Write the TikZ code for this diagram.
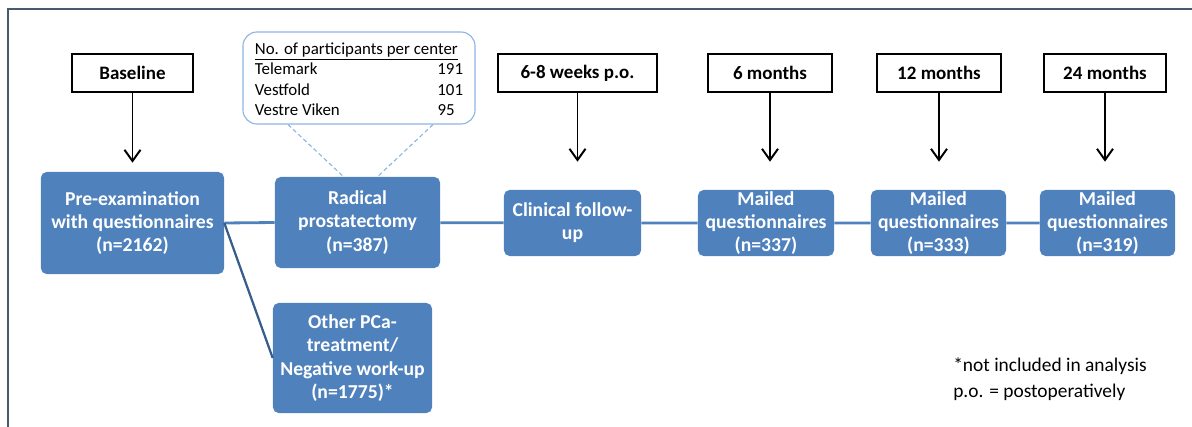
\documentclass[tikz,border=0pt]{standalone}
\usepackage{fontspec}
\setmainfont{Carlito}
\usepackage{tikz}
\usetikzlibrary{positioning, calc, arrows.meta}
\definecolor{boxblue}{HTML}{4F81BD}
\definecolor{darkline}{HTML}{385D8A}
\definecolor{calloutline}{HTML}{8EB4E3}
\definecolor{framegray}{HTML}{4A5A6E}
\tikzset{box/.style = {rectangle,rounded corners=4pt,fill=boxblue,text=white,align=center,inner sep=0pt,
                       font=\bfseries\fontsize{14}{16.5}\selectfont},
         lbl/.style = {rectangle,draw=black,line width=1.3pt,fill=white,inner sep=0pt,
                       minimum height=0.95cm,font=\bfseries\fontsize{13.5}{16}\selectfont},
         arr/.style = {-{Straight Barb[length=2.8mm,width=4mm,line width=1.4pt]},line width=1.4pt},
         link/.style = {boxblue,line width=2pt}}

\begin{document}
\begin{tikzpicture}[x=0.025cm,y=-0.025cm]
        \useasboundingbox (0,0) rectangle (1192,427);
        \draw [framegray,line width=1.2pt] (8,427) -- (8,9) -- (1192,9);

        \node [lbl,minimum width=3.03cm] (Base) at (132.5,73)  {Baseline};
        \node [lbl,minimum width=3.98cm] (W68)  at (577.5,73)  {6-8 weeks p.o.};
        \node [lbl,minimum width=3.10cm] (M6l)  at (770,73)    {6 months};
        \node [lbl,minimum width=3.10cm] (M12l) at (939,73)    {12 months};
        \node [lbl,minimum width=3.05cm] (M24l) at (1105,73)   {24 months};

        \node [box,minimum width=4.575cm,minimum height=2.55cm] (Pre)  at (132.5,223) {Pre-examination\\with questionnaires\\(n=2162)};
        \node [box,minimum width=4.125cm,minimum height=2.275cm] (Rad) at (357.5,222.5) {Radical\\prostatectomy\\(n=387)};
        \node [box,minimum width=3.975cm,minimum height=2.75cm] (Oth)  at (352.5,358) {Other PCa-\\treatment/\\Negative work-up\\(n=1775)*};
        \node [box,minimum width=3.425cm,minimum height=1.65cm] (Clin) at (572.5,223) {Clinical follow-\\up};
        \node [box,minimum width=3.4cm,minimum height=1.65cm]   (M6)   at (766,223)   {Mailed\\questionnaires\\(n=337)};
        \node [box,minimum width=3.375cm,minimum height=1.65cm] (M12)  at (938.5,223) {Mailed\\questionnaires\\(n=333)};
        \node [box,minimum width=3.375cm,minimum height=1.65cm] (M24)  at (1107.5,223) {Mailed\\questionnaires\\(n=319)};

        \node [draw=calloutline,line width=0.8pt,rounded corners=10pt,fill=white,inner sep=0pt,
               minimum width=5.8cm,minimum height=2.3cm,font=\fontsize{12}{14.5}\selectfont] (Call) at (359,78)
              {\begin{tabular*}{148pt}{@{}l@{\extracolsep{\fill}}r@{}}
               \multicolumn{2}{@{}l@{}}{\rule{0pt}{14.5pt}\underline{No. of participants per center}}\\
               Telemark & 191\\
               Vestfold & 101\\
               Vestre Viken & 95\hspace{6pt}
               \end{tabular*}};

        \node [anchor=west,align=left,inner sep=0pt,font=\fontsize{13.8}{18.4}\selectfont] (Note) at (953,379)
              {*not included in analysis\\p.o. = postoperatively};

        \draw [calloutline,line width=0.8pt,dash pattern=on 3pt off 2pt] ($(Call.south)+(-71,0)$) -- ($(Rad.north)+(-14,0)$);
        \draw [calloutline,line width=0.8pt,dash pattern=on 3pt off 2pt] ($(Call.south)+(74,0)$) -- ($(Rad.north)+(20,0)$);

        \draw [link] (Pre.east) -- (Rad.west);
        \draw [link] (Rad) -- (Clin) -- (M6) -- (M12) -- (M24);
        \draw [darkline,line width=1.6pt] (Pre.east) -- (Oth.west);

        \draw [arr,shorten >=0.225cm] (Base) -- (Pre);
        \draw [arr,shorten >=0.7cm] (W68) -- (W68 |- Clin.north);
        \draw [arr,shorten >=0.7cm] (M6l) -- (M6l |- M6.north);
        \draw [arr,shorten >=0.7cm] (M12l) -- (M12l |- M12.north);
        \draw [arr,shorten >=0.7cm] (M24l) -- (M24l |- M24.north);
    \end{tikzpicture}
\end{document}
